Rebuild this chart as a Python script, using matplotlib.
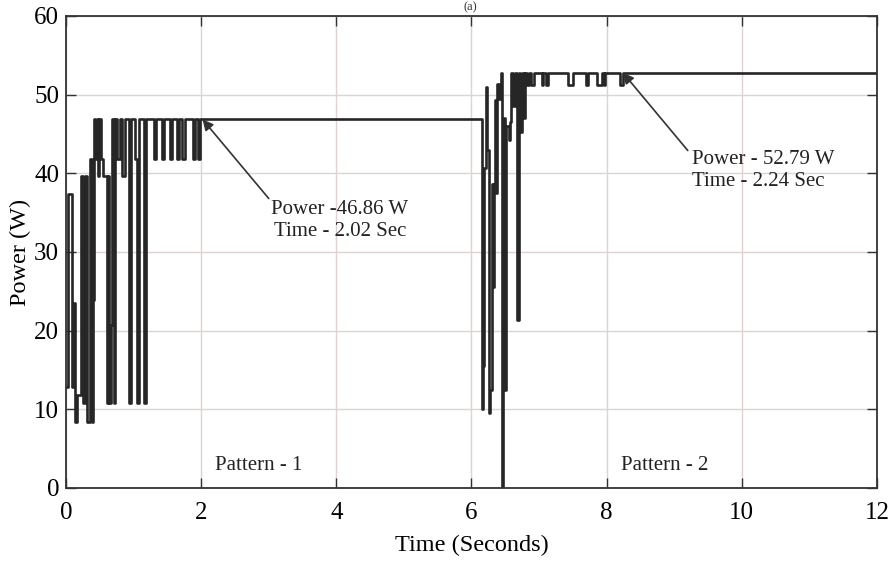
import matplotlib.pyplot as plt

# MPPT output power, two shading patterns (step-wise samples, steps-post)
time_s = [
    0.000, 0.034, 0.084, 0.100, 0.133, 0.158, 0.217, 0.246, 0.280, 0.316,
    0.350, 0.380, 0.400, 0.414, 0.430, 0.454, 0.470, 0.493, 0.520, 0.552,
    0.600, 0.625, 0.641, 0.660, 0.680, 0.710, 0.730, 0.760, 0.800, 0.830,
    0.880, 0.930, 0.960, 1.020, 1.055, 1.080, 1.160, 1.190,
    1.300, 1.330, 1.420, 1.450, 1.540, 1.570, 1.640, 1.670, 1.710, 1.760,
    1.880, 1.910, 1.960, 1.990,
    6.149, 6.170, 6.190, 6.213, 6.230, 6.257, 6.280, 6.307, 6.320, 6.335,
    6.346, 6.360, 6.380, 6.400, 6.430, 6.455, 6.465, 6.480, 6.494, 6.510,
    6.550, 6.568, 6.590, 6.617, 6.640, 6.677, 6.700, 6.720, 6.750, 6.770,
    6.790, 6.820, 6.850, 6.880, 6.920,
    7.040, 7.060, 7.100, 7.130, 7.430, 7.500, 7.690, 7.720, 7.860, 7.930,
    7.960, 7.980, 8.200, 8.240, 12.000,
]
power_w = [
    12.9, 37.4, 12.9, 23.5, 8.4, 11.8, 39.6, 10.8, 39.6, 8.4,
    41.8, 8.4, 23.9, 46.86, 41.8, 46.86, 39.6, 46.86, 41.8, 39.6,
    10.8, 39.6, 10.8, 20.7, 46.86, 10.8, 46.86, 41.8, 46.86, 39.6,
    46.86, 10.8, 46.86, 41.8, 10.8, 46.86, 10.8, 46.86,
    41.8, 46.86, 41.8, 46.86, 41.8, 46.86, 41.8, 46.86, 41.8, 46.86,
    41.8, 46.86, 41.8, 46.86,
    10.0, 15.5, 40.7, 51.0, 43.0, 9.5, 12.4, 38.7, 25.5, 38.7,
    49.3, 37.5, 51.3, 49.5, 52.79, 0.0, 17.9, 47.0, 12.4, 46.0,
    44.3, 46.5, 52.79, 48.5, 52.79, 21.3, 52.79, 45.2, 52.79, 47.0,
    52.79, 51.2, 52.79, 51.2, 52.79,
    51.2, 52.79, 51.2, 52.79, 51.2, 52.79, 51.2, 52.79, 51.2, 52.79,
    51.2, 52.79, 51.2, 52.79, 52.79,
]

# Tracked maximum power points: (time of the marked point, power, label time)
mpp_time = [2.02, 8.24]
mpp_power = [46.86, 52.79]
mpp_label_time = [2.02, 2.24]
pattern_names = ['Pattern - 1', 'Pattern - 2']

plt.rcParams['font.family'] = ['Liberation Serif', 'DejaVu Serif']

fig = plt.figure(figsize=(8.95, 5.64), dpi=100)
ax = fig.add_axes([66 / 895, 1 - 488 / 564, 811 / 895, 472 / 564])

ax.plot(time_s, power_w, drawstyle='steps-post', color='#262626', linewidth=1.9)

ax.set_xlim(0, 12)
ax.set_ylim(0, 60)
ax.set_xticks(range(0, 13, 2))
ax.set_yticks(range(0, 61, 10))
ax.grid(True, color='#ddd3d0', linewidth=1.0)
ax.tick_params(direction='in', top=True, right=True, length=7, width=1.0,
               labelsize=18, color='#333333')
ax.tick_params(axis='x', pad=10)
ax.tick_params(axis='y', pad=5)
for side in ax.spines.values():
    side.set_color('#333333')
    side.set_linewidth(1.3)

ax.set_xlabel('Time (Seconds)', fontsize=17.5, labelpad=8)
ax.set_ylabel('Power (W)', fontsize=17.5, labelpad=2)

# Annotations for the two tracked maxima
ax.annotate('', xy=(mpp_time[0], mpp_power[0]), xytext=(3.0, 36.8),
            arrowprops=dict(arrowstyle='-|>', color='#333333', lw=1.2,
                            mutation_scale=16, shrinkA=0, shrinkB=0))
ax.text(4.05, 36.6, f'Power -{mpp_power[0]:.2f} W\nTime - {mpp_label_time[0]:.2f} Sec',
        ha='center', va='top', multialignment='center', fontsize=15,
        color='#222222', linespacing=1.2)

ax.annotate('', xy=(mpp_time[1], mpp_power[1]), xytext=(9.2, 42.9),
            arrowprops=dict(arrowstyle='-|>', color='#333333', lw=1.2,
                            mutation_scale=16, shrinkA=0, shrinkB=0))
ax.text(9.27, 43.0, f'Power - {mpp_power[1]:.2f} W\nTime - {mpp_label_time[1]:.2f} Sec',
        ha='left', va='top', fontsize=15, color='#222222', linespacing=1.2)

ax.text(2.85, 2.8, pattern_names[0], ha='center', va='center', fontsize=15, color='#222222')
ax.text(8.86, 2.8, pattern_names[1], ha='center', va='center', fontsize=15, color='#222222')

fig.text(0.526, 0.998, '(a)', ha='center', va='top', fontsize=9, color='#333333')

fig.savefig('out.png', dpi=100)
